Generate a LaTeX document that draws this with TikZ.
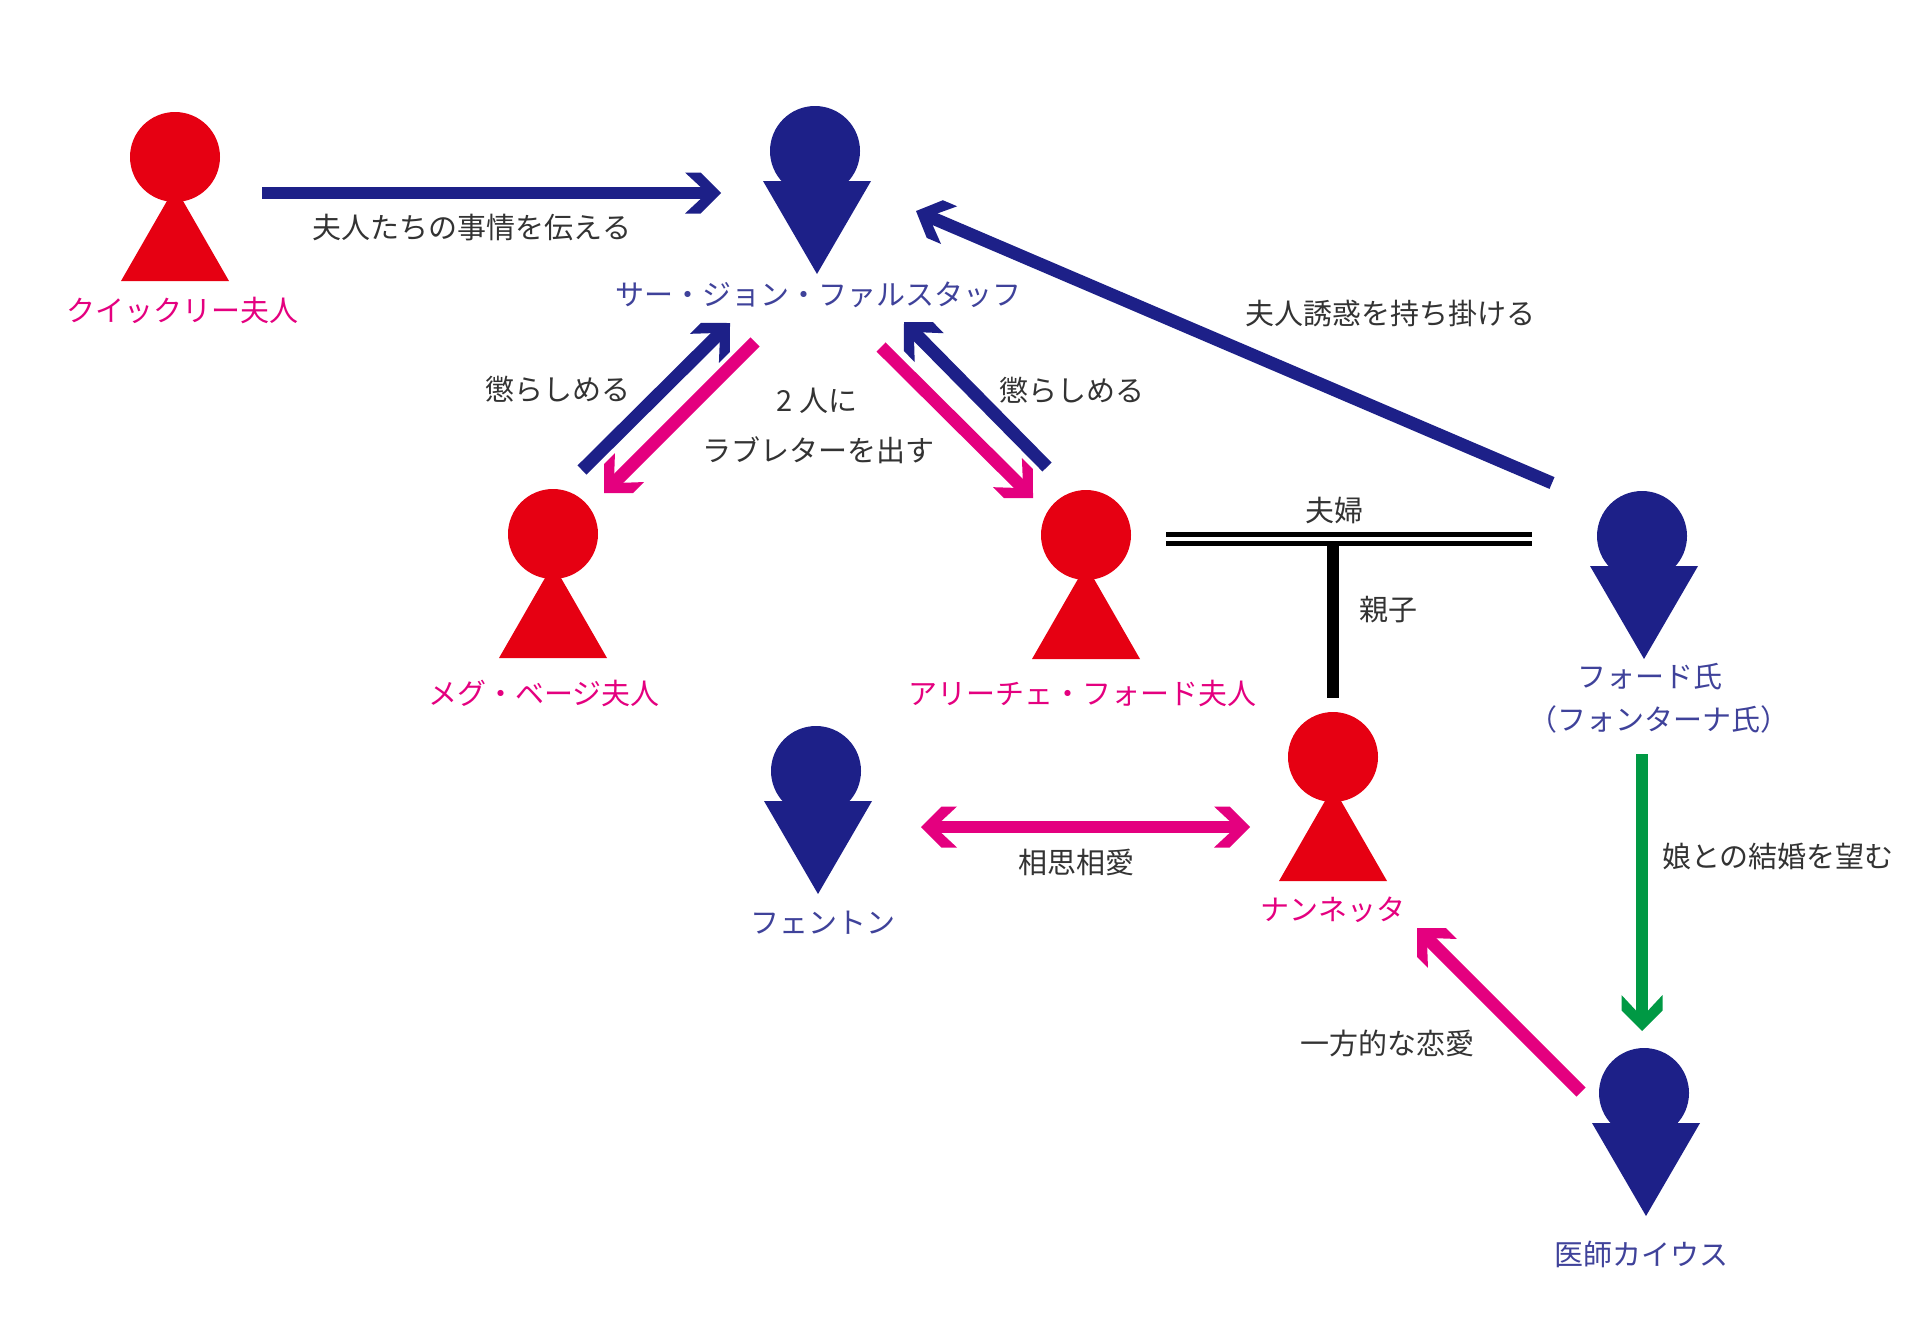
\documentclass[tikz,border=0pt]{standalone}
\usepackage{fontspec}
\setmainfont{Noto Sans CJK JP}
\usepackage{tikz}
\usetikzlibrary{arrows.meta}
\definecolor{wred}{HTML}{E60012}
\definecolor{mblue}{HTML}{1D2088}
\definecolor{lpink}{HTML}{E4007F}
\definecolor{lgreen}{HTML}{009944}
\definecolor{ltext}{HTML}{333333}
\pgfdeclarearrow{
    name=Chevron,
    setup code={
        \pgfarrowssettipend{0pt}
        \pgfarrowssetbackend{-18pt}
        \pgfarrowssetvisualbackend{-18pt}
        \pgfarrowssetlineend{-5pt}
        \pgfarrowshullpoint{0pt}{0pt}
        \pgfarrowshullpoint{-18pt}{10.25pt}
        \pgfarrowshullpoint{-18pt}{-10.25pt}
    },
    drawing code={
        \pgfpathmoveto{\pgfqpoint{0pt}{0pt}}
        \pgfpathlineto{\pgfqpoint{-10.25pt}{10.25pt}}
        \pgfpathlineto{\pgfqpoint{-18pt}{10.25pt}}
        \pgfpathlineto{\pgfqpoint{-7pt}{0pt}}
        \pgfpathlineto{\pgfqpoint{-18pt}{-10.25pt}}
        \pgfpathlineto{\pgfqpoint{-10.25pt}{-10.25pt}}
        \pgfpathclose
        \pgfusepathqfill
    },
}
\tikzset{
    head/.style={circle, minimum size=45pt, inner sep=0pt},
    txt/.style={text=ltext, font=\fontsize{14.5}{17}\selectfont, inner sep=0pt},
    wname/.style={txt, text=lpink},
    mname/.style={txt, text=mblue!85!white},
    link/.style={line width=6.4pt, -{Chevron}},
}
\newcommand{\woman}[3]{
    \node[head, fill=wred] (#1) at (#2,#3) {};
    \fill[wred] (#2,#3) ++(0,30) -- ++(54,94) -- ++(-108,0) -- cycle;}
\newcommand{\man}[3]{
    \node[head, fill=mblue] (#1) at (#2,#3) {};
    \fill[mblue] (#2,#3) ++(-52,30) -- ++(108,0) -- ++(-54,93) -- cycle;}

\begin{document}
\begin{tikzpicture}[x=0.5pt, y=-0.5pt]
        \useasboundingbox (0,0) rectangle (1920,1340);

        % people
        \woman{quickly}{175}{157}
        \man{falstaff}{815}{151}
        \woman{meg}{553}{534}
        \woman{alice}{1086}{535}
        \man{ford}{1642}{536}
        \man{fenton}{816}{771}
        \woman{nannetta}{1333}{757}
        \man{caius}{1644}{1093}

        % names
        \node[wname] (quicklyname) at (182,310) {クイックリー夫人};
        \node[mname] (falstaffname) at (818,295) {サー・ジョン・ファルスタッフ};
        \node[wname] (megname) at (544,693) {メグ・ベージ夫人};
        \node[wname] (alicename) at (1082,693) {アリーチェ・フォード夫人};
        \node[mname] (fordname) at (1650,677) {フォード氏};
        \node[mname] (fordname2) at (1659,719) {（フォンターナ氏）};
        \node[mname] (fentonname) at (823,923) {フェントン};
        \node[wname] (nannettaname) at (1333,910) {ナンネッタ};
        \node[mname] (caiusname) at (1641,1254) {医師カイウス};

        % free ends of the arrows
        \coordinate (tellA) at (262,193);
        \coordinate (tellB) at (721,193);
        \coordinate (megA) at (582,470);
        \coordinate (megB) at (730,323);
        \coordinate (letterA) at (755,342);
        \coordinate (letterB) at (604,493);
        \coordinate (aliceA) at (1047,467);
        \coordinate (aliceB) at (904,322);
        \coordinate (letterC) at (881,347);
        \coordinate (letterD) at (1033,498);
        \coordinate (fordA) at (1552,483);
        \coordinate (fordB) at (916,211);
        \coordinate (loveA) at (921,827);
        \coordinate (loveB) at (1250,827);
        \coordinate (wishA) at (1642,754);
        \coordinate (wishB) at (1642,1031);
        \coordinate (oneA) at (1581,1092);
        \coordinate (oneB) at (1417,928);
        \coordinate (coupleA) at (1166,539);
        \coordinate (coupleB) at (1532,539);
        \coordinate (coupleM) at (1333,545);
        \coordinate (childA) at (1333,698);

        % arrows
        \draw[link, mblue] (tellA) -- (tellB);
        \draw[link, mblue] (megA) -- (megB);
        \draw[link, lpink] (letterA) -- (letterB);
        \draw[link, mblue] (aliceA) -- (aliceB);
        \draw[link, lpink] (letterC) -- (letterD);
        \draw[link, mblue] (fordA) -- (fordB);
        \draw[link, lpink, {Chevron}-{Chevron}] (loveA) -- (loveB);
        \draw[link, lgreen] (wishA) -- (wishB);
        \draw[link, lpink] (oneA) -- (oneB);
        \draw[line width=6pt] (coupleM) -- (childA);
        \draw[line width=2.3pt, double, double distance=2pt] (coupleA) -- (coupleB);

        % labels
        \node[txt] (telllabel) at (472,228) {夫人たちの事情を伝える};
        \node[txt] (meglabel) at (558,389) {懲らしめる};
        \node[txt] (alicelabel) at (1072,390) {懲らしめる};
        \node[txt] (twolabel) at (817,401) {2 人に};
        \node[txt] (letterlabel) at (818,450) {ラブレターを出す};
        \node[txt] (fordlabel) at (1390,314) {夫人誘惑を持ち掛ける};
        \node[txt] (couplelabel) at (1334,510) {夫婦};
        \node[txt] (childlabel) at (1388,610) {親子};
        \node[txt] (lovelabel) at (1076,862) {相思相愛};
        \node[txt] (wishlabel) at (1778,856) {娘との結婚を望む};
        \node[txt] (onelabel) at (1387,1043) {一方的な恋愛};

    \end{tikzpicture}
\end{document}
